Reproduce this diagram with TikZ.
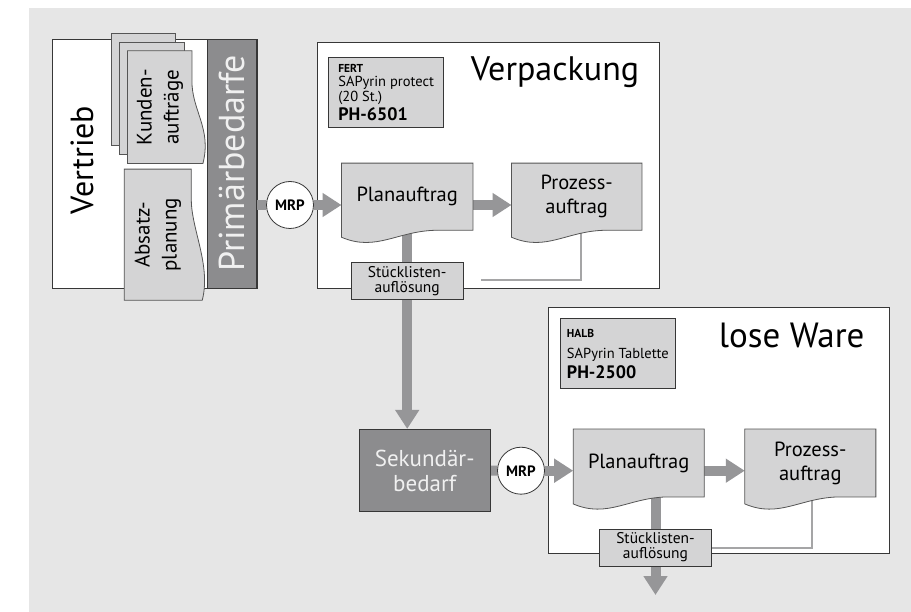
\documentclass[tikz,border=0pt]{standalone}
\usepackage{fontspec}
\setmainfont{PT Sans}
\usetikzlibrary{positioning, arrows.meta, calc, backgrounds}
\definecolor{SAPbg}{RGB}{230,230,230}
\definecolor{SAPdoc}{RGB}{212,212,213}
\definecolor{SAPdark}{RGB}{140,140,142}
\definecolor{SAPflow}{RGB}{150,150,152}
\definecolor{SAPline}{RGB}{165,165,166}
\definecolor{SAPedge}{RGB}{55,55,55}
\pgfdeclarelayer{edges}
\pgfdeclarelayer{docs}
\pgfsetlayers{background,edges,docs,main}
\newcommand{\fs}[2]{\fontsize{#1}{#2}\selectfont}
\tikzset{
  area/.style={draw=SAPedge, fill=white, line width=0.8pt, anchor=north west, inner sep=0pt},
  doc/.style={inner sep=0pt, align=center, font=\fs{20.5}{24}},
  docfill/.style={draw=SAPedge!85, fill=SAPdoc, line width=0.8pt},
  dark/.style={draw=SAPedge, fill=SAPdark, text=white!94!black, inner sep=0pt, line width=0.8pt, align=center},
  mrp/.style={circle, draw=SAPedge, fill=white, minimum size=47pt, inner sep=0pt, line width=0.8pt,
    font=\fs{15}{15}\bfseries},
  stk/.style={draw=SAPedge, fill=SAPdoc, minimum width=112pt, minimum height=37pt, inner sep=0pt,
    line width=0.8pt, align=center, font=\fs{15.5}{15}},
  mat/.style={draw=SAPedge, fill=SAPdoc, anchor=north west, minimum width=115pt, minimum height=70pt,
    inner sep=0pt, align=left, line width=0.8pt},
  title/.style={font=\fs{34}{40}},
  pipe/.style={line width=10pt, SAPflow},
  flow/.style={pipe, -{Triangle[length=19pt, width=23pt]}},
  ret/.style={line width=2pt, SAPline},
}
% document with wavy lower edge
\newcommand{\docH}[1]{%
  \path[docfill] (#1.north west) -- (#1.north east) -- (#1.south east) -- ([xshift=-35pt]#1.south east)
    .. controls ([xshift=-75pt]#1.south east) and ([xshift=35pt,yshift=-22pt]#1.south west)
    .. ([yshift=-7pt]#1.south west) -- cycle;}
% document turned on its side, wavy edge to the right
\newcommand{\docV}[1]{%
  \path[docfill] (#1.south west) -- (#1.north west) -- (#1.north east) -- ([yshift=-30pt]#1.north east)
    .. controls ([yshift=-60pt]#1.north east) and ([xshift=20pt,yshift=35pt]#1.south east)
    .. ([xshift=11pt]#1.south east) -- cycle;}

\begin{document}
\begin{tikzpicture}[x=1pt, y=-1pt]
  \useasboundingbox (0,0) rectangle (911,612);
  % areas
  \begin{scope}[on background layer]
    \fill[SAPbg] (29,8) rectangle (911,612);
    \node[area, minimum width=205pt, minimum height=249pt] (vertrieb) at (52,39) {};
    \node[area, minimum width=342pt, minimum height=246pt] (verp) at (316.7,41.7) {};
    \node[area, minimum width=341pt, minimum height=246.6pt] (lose) at (548.3,306.7) {};
  \end{scope}
  \node[title, rotate=90, font=\fs{32}{38}] (vtxt) at (82,160) {Vertrieb};
  \node[title] (vptxt) at (555,72) {Verpackung};
  \node[title, font=\fs{35}{40}] (lwtxt) at (791.7,335) {lose Ware};
  % Vertrieb
  \node[dark, rotate=90, minimum width=249pt, minimum height=49pt, font=\fs{36}{40}] (prim) at (232.2,163.5) {Primärbedarfe};
  \node[doc, minimum width=64pt, minimum height=112.3pt, font=\fs{21}{27}] (kunden) at (159.7,107.2)
    {\rotatebox{90}{\begin{tabular}{@{}c@{}}Kunden-\\aufträge\end{tabular}}};
  \node[doc, minimum width=66.7pt, minimum height=130.7pt, font=\fs{21}{27}] (absatz) at (157.7,234.7)
    {\rotatebox{90}{\begin{tabular}{@{}c@{}}Absatz-\\planung\end{tabular}}};
  \node[mrp] (mrp1) at (290,205) {MRP};
  % Verpackung
  \node[mat, font=\fs{14.5}{14.5}] (fert) at (328.3,56.7)
    {{\fs{11.5}{14.5}\bfseries FERT}\\SAPyrin protect\\(20 St.)\\[2pt]{\fs{18}{18}\bfseries PH-6501}};
  \node[doc, minimum width=131pt, minimum height=66.7pt] (plan1) at (407.2,196.7) {Planauftrag};
  \node[doc, minimum width=130pt, minimum height=66.7pt] (proz1) at (576.7,196.7) {Prozess-\\auftrag};
  \node[stk] (stk1) at (407.2,280.8) {Stücklisten-\\auflösung};
  \coordinate (ret1) at (480.7,280);
  % lose Ware
  \node[dark, minimum width=130.7pt, minimum height=82.4pt, font=\fs{23}{25}] (sek) at (424.7,470.5) {Sekundär-\\bedarf};
  \node[mrp] (mrp2) at (521,470.7) {MRP};
  \node[mat, font=\fs{14.5}{14}] (halb) at (560,318.3)
    {{\fs{11.5}{14}\bfseries HALB}\\[7pt]SAPyrin Tablette\\[3pt]{\fs{18}{18}\bfseries PH-2500}};
  \node[doc, minimum width=130.7pt, minimum height=67.4pt] (plan2) at (638.7,463) {Planauftrag};
  \node[doc, minimum width=130.7pt, minimum height=67.4pt] (proz2) at (810.3,463) {Prozess-\\auftrag};
  \node[stk] (stk2) at (655.5,547.5) {Stücklisten-\\auflösung};
  \coordinate (out2) at (655.5,595);
  % document sheets
  \begin{pgfonlayer}{docs}
    \draw[docfill] (111.7,33.3) rectangle (175.7,145.7);
    \draw[docfill] (119.3,42.7) rectangle (184,154.3);
    \docV{kunden} \docV{absatz}
    \docH{plan1} \docH{proz1} \docH{plan2} \docH{proz2}
  \end{pgfonlayer}
  % connectors
  \begin{pgfonlayer}{edges}
    \draw[pipe] (mrp1 -| prim.south) -- (mrp1);
    \draw[flow] (mrp1) -- (mrp1 -| plan1.west);
    \draw[flow] (mrp1 -| plan1.east) -- (mrp1 -| proz1.west);
    \draw[flow] (plan1.south) -- (plan1.south |- sek.north);
    \draw[ret] ([xshift=4pt]proz1.south) |- (ret1);
    \draw[pipe] (sek.east) -- (mrp2);
    \draw[flow] (mrp2) -- (mrp2 -| plan2.west);
    \draw[flow] (mrp2 -| plan2.east) -- (mrp2 -| proz2.west);
    \draw[flow] (stk2.north |- plan2.south) -- (out2);
    \draw[ret] ([xshift=1.4pt]proz2.south) |- (stk2.east);
  \end{pgfonlayer}
\end{tikzpicture}
\end{document}
